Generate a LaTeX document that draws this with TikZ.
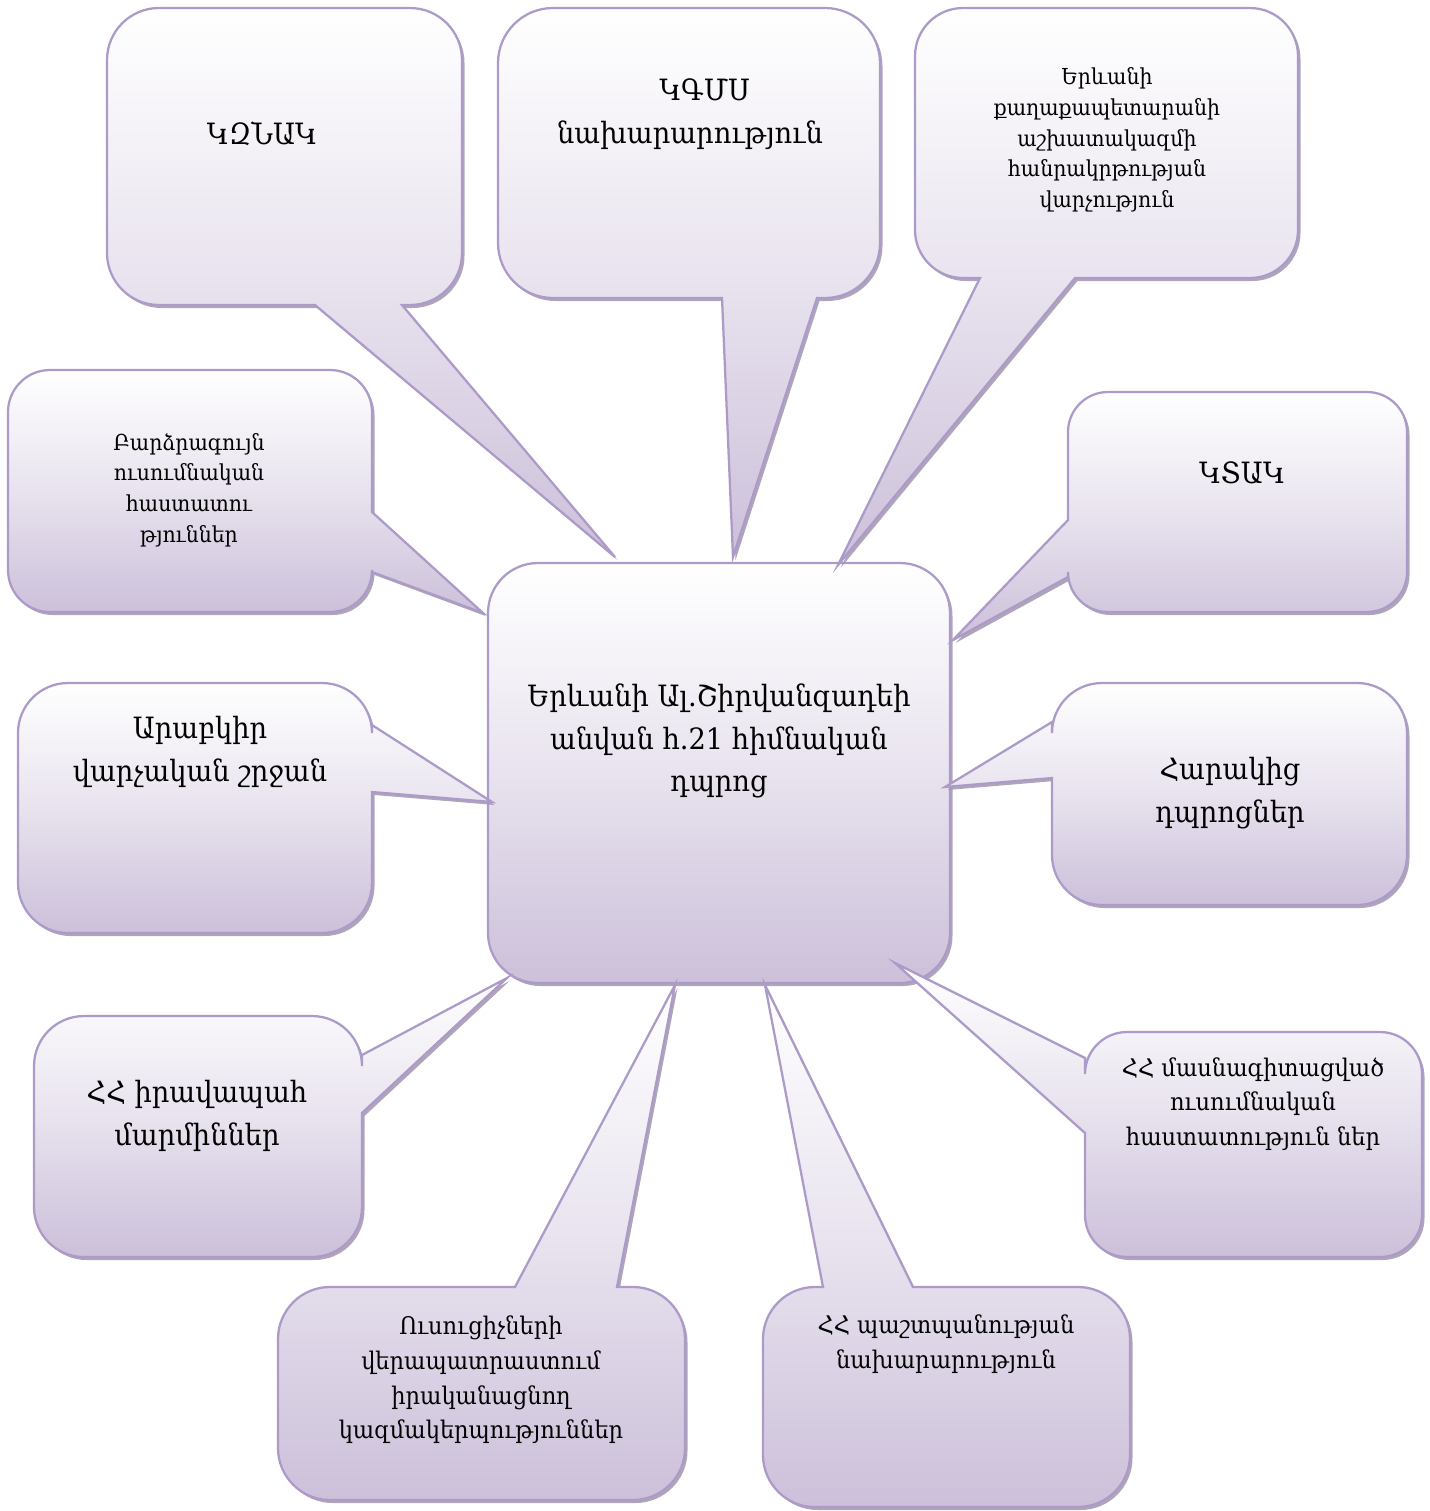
\documentclass[tikz,border=0pt]{standalone}
\usepackage{fontspec}
\setmainfont{DejaVu Serif}[FakeStretch=0.93]
\definecolor{lav}{RGB}{204,192,218}
\definecolor{edgec}{RGB}{172,155,200}
\definecolor{shd}{RGB}{160,150,172}
\tikzset{
  bubblefill/.style={top color=white, bottom color=lav, middle color=lav!45!white, draw=edgec, line width=1.7pt, line join=miter},
  bubbleshadow/.style={fill=shd, opacity=0.85},
  lbl/.style={align=center, text=black, inner sep=0pt},
  big/.style={font=\fontsize{22}{32}\selectfont},
  mid/.style={font=\fontsize{18.2}{26}\selectfont},
  small/.style={font=\fontsize{16.5}{23}\selectfont},
}
% #1 x1, #2 y1, #3 x2, #4 y2, #5 top insert, #6 right insert, #7 bottom insert, #8 left insert, #9 radius
\newcommand\bubbleshape[9]{%
  \def\rr{#9}\pgfmathsetmacro\kk{0.448*#9}%
  \path[bubbleshadow, shift={(2.5,3)}] (#1+\rr,#2) #5 -- (#3-\rr,#2) .. controls (#3-\kk,#2) and (#3,#2+\kk) .. (#3,#2+\rr) #6 -- (#3,#4-\rr) .. controls (#3,#4-\kk) and (#3-\kk,#4) .. (#3-\rr,#4) #7 -- (#1+\rr,#4) .. controls (#1+\kk,#4) and (#1,#4-\kk) .. (#1,#4-\rr) #8 -- (#1,#2+\rr) .. controls (#1,#2+\kk) and (#1+\kk,#2) .. cycle;
  \path[bubblefill] (#1+\rr,#2) #5 -- (#3-\rr,#2) .. controls (#3-\kk,#2) and (#3,#2+\kk) .. (#3,#2+\rr) #6 -- (#3,#4-\rr) .. controls (#3,#4-\kk) and (#3-\kk,#4) .. (#3-\rr,#4) #7 -- (#1+\rr,#4) .. controls (#1+\kk,#4) and (#1,#4-\kk) .. (#1,#4-\rr) #8 -- (#1,#2+\rr) .. controls (#1,#2+\kk) and (#1+\kk,#2) .. cycle;
}
\begin{document}
\begin{tikzpicture}[x=0.75pt,y=-0.75pt]
\useasboundingbox (0,0) rectangle (1429,1511);
% centre box
\bubbleshape{488}{563}{950}{983}{}{}{}{}{50}
% callouts
\bubbleshape{107}{8}{462}{305}{}{}{-- (402,305) -- (615,557) -- (315,305)}{}{52}
\bubbleshape{498}{8}{880}{298}{}{}{-- (817,298) -- (733,557) -- (722,298)}{}{55}
\bubbleshape{915}{8}{1298}{278}{}{}{-- (1075,278) -- (838,565) -- (980,278)}{}{48}
\bubbleshape{8}{370}{372}{612}{}{-- (372,512) -- (483,613) -- (372,572)}{}{}{42}
\bubbleshape{1068}{392}{1407}{612}{}{}{}{-- (1068,577) -- (953,640) -- (1068,520)}{40}
\bubbleshape{18}{683}{372}{933}{}{-- (372,725) -- (492,802) -- (372,792)}{}{}{50}
\bubbleshape{1052}{683}{1407}{905}{}{}{}{-- (1052,778) -- (945,787) -- (1052,722)}{50}
\bubbleshape{34}{1016}{362}{1257}{}{-- (362,1055) -- (507,978) -- (362,1113)}{}{}{50}
\bubbleshape{1085}{1032}{1422}{1257}{}{}{}{-- (1085,1133) -- (895,963) -- (1085,1058)}{42}
\bubbleshape{278}{1287}{685}{1500}{-- (515,1287) -- (675,985) -- (617,1287)}{}{}{}{52}
\bubbleshape{763}{1287}{1130}{1507}{-- (823,1287) -- (765,985) -- (913,1287)}{}{}{}{52}
% texts
\node[lbl,big] (c) at (719,741) {Երևանի Ալ.Շիրվանզադեի\\անվան հ.21 հիմնական\\դպրոց};
\node[lbl,big] (t1) at (262,134) {ԿԶՆԱԿ};
\node[lbl,big] (t2) at (690,114) {\hspace*{1em}ԿԳՄՍ\\նախարարություն};
\node[lbl,small] (t3) at (1107,140) {Երևանի\\քաղաքապետարանի\\աշխատակազմի\\հանրակրթության\\վարչություն};
\node[lbl,small] (t4) at (189,490) {Բարձրագույն\\ուսումնական\\հաստատու\\թյուններ};
\node[lbl,big] (t5) at (1242,473) {ԿՏԱԿ};
\node[lbl,big] (t6) at (200,752) {Արաբկիր\\վարչական շրջան};
\node[lbl,big] (t7) at (1230,793) {Հարակից\\դպրոցներ};
\node[lbl,big] (t8) at (197,1116) {ՀՀ իրավապահ\\մարմիններ};
\node[lbl,mid] (t9) at (1253,1104) {ՀՀ մասնագիտացված\\ուսումնական\\հաստատություն ներ};
\node[lbl,mid] (t10) at (481,1380) {Ուսուցիչների\\վերապատրաստում\\իրականացնող\\կազմակերպություններ};
\node[lbl,mid] (t11) at (946,1344) {ՀՀ պաշտպանության\\նախարարություն};
\end{tikzpicture}
\end{document}
